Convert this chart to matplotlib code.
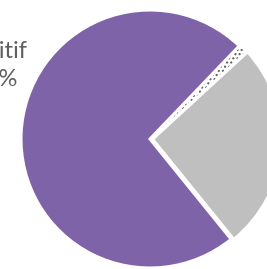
import matplotlib
matplotlib.use("Agg")
import matplotlib.pyplot as plt

# slices, counter-clockwise from the lower right
labels = ["Autre", "Neutre", "Positif"]
shares = [26, 1, 73]
colors = ["#BFBFBF", "white", "#7F63A8"]
label_text = "Positif\n73%"

plt.rcParams["font.family"] = ["Lato", "DejaVu Sans"]

fig = plt.figure(figsize=(2.67, 2.69), dpi=100)
ax = fig.add_axes([0, 0, 1, 1])

wedges, _ = ax.pie(shares, colors=colors, startangle=-51, counterclock=True,
                   explode=[0.02, 0, 0], radius=1.0,
                   wedgeprops=dict(edgecolor="white", linewidth=2.2))
# thin middle slice drawn as a dotted hatch
wedges[1].set_hatch("....")
wedges[1].set_edgecolor("#5a5a5a")
wedges[1].set_linewidth(0)

ax.text(-1.20, 0.57, label_text, ha="center", va="center", fontsize=17,
        color="#606060", linespacing=1.42)

# pie centre sits at about (150, 139) px, radius ~129 px
ax.set_xlim(-150 / 129, 117 / 129)
ax.set_ylim(-130 / 129, 139 / 129)
ax.axis("off")

fig.savefig("out.png", dpi=100)
